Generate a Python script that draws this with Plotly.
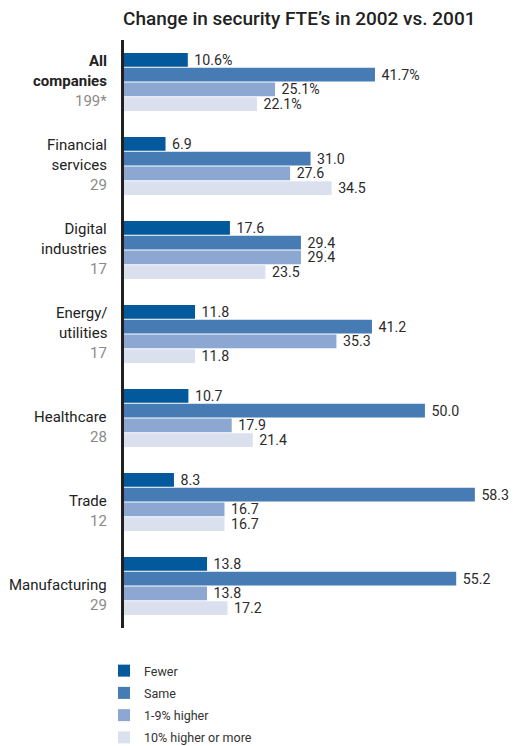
import plotly.graph_objects as go

# Survey segments, respondent counts and the share (%) in each FTE-change bucket
categories = ["All companies", "Financial services", "Digital industries",
              "Energy/utilities", "Healthcare", "Trade", "Manufacturing"]
category_lines = ["All<br>companies", "Financial<br>services", "Digital<br>industries",
                  "Energy/<br>utilities", "Healthcare", "Trade", "Manufacturing"]
respondents = ["199*", "29", "17", "17", "28", "12", "29"]

fewer = [10.6, 6.9, 17.6, 11.8, 10.7, 8.3, 13.8]
same = [41.7, 31.0, 29.4, 41.2, 50.0, 58.3, 55.2]
higher_1_9 = [25.1, 27.6, 29.4, 35.3, 17.9, 16.7, 13.8]
higher_10_plus = [22.1, 34.5, 23.5, 11.8, 21.4, 16.7, 17.2]

series = [
    ("Fewer", fewer, "#02599b"),
    ("Same", same, "#477bb3"),
    ("1-9% higher", higher_1_9, "#8ca8d2"),
    ("10% higher or more", higher_10_plus, "#dbe0ee"),
]

FONT = "Roboto"
TEXT_DARK = "#2b2b2b"
TEXT_GREY = "#8a8a8a"
NBSP = "\u00a0"

fig = go.Figure()
for i, (name, vals, color) in enumerate(series):
    # the overall row carries a percent sign, the segment rows do not
    labels = [NBSP + (f"{v:.1f}%" if k == 0 else f"{v:.1f}") for k, v in enumerate(vals)]
    fig.add_trace(go.Bar(
        name=name,
        y=categories,
        x=vals,
        orientation="h",
        marker=dict(color=color, line=dict(width=0)),
        text=labels,
        textposition="outside",
        textfont=dict(family=FONT, size=14.2, color=TEXT_DARK),
        constraintext="none",
        cliponaxis=False,
        legendgroup=f"g{i}",
        hoverinfo="skip",
    ))

# segment names (last line level with the group's centre) and respondent counts below
for cat, lines, n in zip(categories, category_lines, respondents):
    bold = cat == "All companies"
    fig.add_annotation(
        x=0, xref="paper", y=cat, yref="y",
        text=f"<b>{lines}</b>" if bold else lines,
        xanchor="right", yanchor="bottom", align="right",
        xshift=-15, yshift=-10,
        showarrow=False,
        font=dict(family=FONT, size=15, color="#222222"),
    )
    fig.add_annotation(
        x=0, xref="paper", y=cat, yref="y",
        text=n,
        xanchor="right", yanchor="middle", align="right",
        xshift=-15, yshift=-19,
        showarrow=False,
        font=dict(family=FONT, size=15, color=TEXT_GREY),
    )

fig.update_layout(
    width=517, height=746,
    margin=dict(l=124, r=0, t=40, b=118, autoexpand=False),
    paper_bgcolor="white",
    plot_bgcolor="white",
    barmode="group",
    bargap=0.3,
    bargroupgap=0.07,
    title=dict(
        text="Change in security FTE’s in 2002 vs. 2001",
        x=123 / 517, xanchor="left", xref="container",
        y=1 - 18 / 746, yanchor="middle", yref="container",
        font=dict(family=FONT, size=19, color="#222222", weight=500),
    ),
    xaxis=dict(range=[0, 65.3], visible=False, fixedrange=True),
    yaxis=dict(
        autorange="reversed",
        showticklabels=False,
        ticks="",
        showgrid=False,
        zeroline=False,
        showline=True,
        linecolor="#231f20",
        linewidth=3,
    ),
    legend=dict(
        orientation="v",
        xref="container", x=104 / 517, xanchor="left",
        yref="container", y=1 - 656 / 746, yanchor="top",
        traceorder="grouped",
        tracegroupgap=3,
        font=dict(family=FONT, size=12.5, color="#333333"),
        bgcolor="rgba(0,0,0,0)",
    ),
    showlegend=True,
)

fig.write_html("out.html")
